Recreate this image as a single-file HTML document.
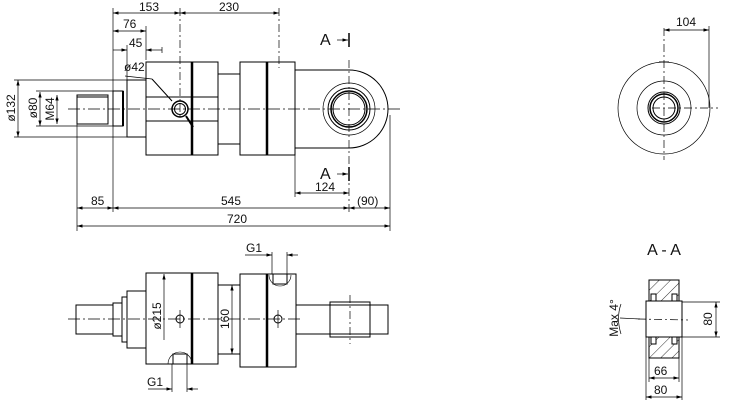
<!DOCTYPE html>
<html><head><meta charset="utf-8"><style>
html,body{margin:0;padding:0;background:#fff;}
svg{display:block;}
text{font-family:"Liberation Sans",sans-serif;font-size:12px;fill:#111;}
</style></head><body>
<svg width="734" height="411" viewBox="0 0 734 411" xmlns="http://www.w3.org/2000/svg">
<defs>
<marker id="a" viewBox="0 0 10 6" refX="10" refY="3" markerWidth="8" markerHeight="5" orient="auto-start-reverse"><path d="M0,0 L10,3 L0,6z" fill="#000"/></marker>
<pattern id="h" width="8" height="8" patternUnits="userSpaceOnUse" patternTransform="rotate(45)"><line x1="0" y1="0" x2="0" y2="8" stroke="#000" stroke-width="0.8"/></pattern>
</defs>
<g fill="none" stroke="#000" stroke-width="1">
<line x1="68" y1="109" x2="400" y2="109" stroke-dasharray="12,3,2,3" stroke-width="0.7"/>
<rect x="77" y="95" width="31" height="29"/>
<line x1="77" y1="97" x2="108" y2="97"/>
<rect x="113" y="91" width="10" height="35"/>
<line x1="123" y1="91" x2="123" y2="126" stroke-width="2"/>
<rect x="127" y="80" width="19" height="57"/>
<rect x="146" y="62" width="72" height="93"/>
<line x1="192" y1="62" x2="192" y2="155" stroke-width="2.5"/>
<line x1="146" y1="97" x2="218" y2="97"/>
<line x1="146" y1="121" x2="218" y2="121"/>
<rect x="218" y="74" width="22" height="70"/>
<rect x="240" y="62" width="55" height="93"/>
<line x1="267" y1="62" x2="267" y2="155" stroke-width="2.5"/>
<path d="M295,70 H349 A39,39 0 0 1 349,148 H295"/>
<circle cx="349" cy="109" r="26" stroke-width="0.7"/>
<circle cx="349" cy="109" r="21"/>
<circle cx="349" cy="109" r="18" stroke-width="1.5"/>
<circle cx="349" cy="109" r="16"/>
<line x1="349" y1="60" x2="349" y2="215" stroke-dasharray="8,3,2,3" stroke-width="0.7"/>
<circle cx="180" cy="109" r="8" stroke-width="1.5"/>
<circle cx="180" cy="109" r="5.5"/>
<line x1="152" y1="79" x2="172" y2="101"/>
<line x1="186" y1="116" x2="193" y2="127" stroke-width="2"/>
<line x1="125" y1="76" x2="152" y2="79" stroke-width="0.7"/>
<line x1="180" y1="8" x2="180" y2="120" stroke-dasharray="8,3,2,3" stroke-width="0.7"/>
<line x1="279" y1="8" x2="279" y2="68" stroke-dasharray="8,3,2,3" stroke-width="0.7"/>
<line x1="174" y1="62" x2="186" y2="62"/><line x1="273" y1="62" x2="285" y2="62"/>
<g stroke-width="0.7">
<line x1="113" y1="8" x2="113" y2="91"/>
<line x1="146" y1="26" x2="146" y2="60"/>
<line x1="127" y1="45" x2="127" y2="80"/>
<line x1="162" y1="47" x2="162" y2="53"/>
<line x1="113" y1="13" x2="180" y2="13" marker-start="url(#a)" marker-end="url(#a)"/>
<line x1="180" y1="13" x2="279" y2="13" marker-start="url(#a)" marker-end="url(#a)"/>
<line x1="113" y1="31" x2="146" y2="31" marker-start="url(#a)" marker-end="url(#a)"/>
<line x1="113" y1="50" x2="127" y2="50" marker-end="url(#a)"/>
<line x1="146" y1="50" x2="162" y2="50" marker-start="url(#a)"/>
<line x1="14" y1="80" x2="127" y2="80"/>
<line x1="14" y1="137" x2="127" y2="137"/>
<line x1="36" y1="91" x2="113" y2="91"/>
<line x1="36" y1="126" x2="113" y2="126"/>
<line x1="18" y1="80" x2="18" y2="137" marker-start="url(#a)" marker-end="url(#a)"/>
<line x1="40" y1="92" x2="40" y2="126" marker-start="url(#a)" marker-end="url(#a)"/>
<line x1="57" y1="95" x2="57" y2="124" marker-start="url(#a)" marker-end="url(#a)"/>
<line x1="77" y1="124" x2="77" y2="231"/>
<line x1="113" y1="126" x2="113" y2="212"/>
<line x1="295" y1="148" x2="295" y2="197"/>
<line x1="390" y1="115" x2="390" y2="231"/>
<line x1="295" y1="193" x2="349" y2="193" marker-start="url(#a)" marker-end="url(#a)"/>
<line x1="77" y1="208" x2="113" y2="208" marker-start="url(#a)" marker-end="url(#a)"/>
<line x1="113" y1="208" x2="349" y2="208" marker-start="url(#a)" marker-end="url(#a)"/>
<line x1="349" y1="208" x2="390" y2="208" marker-start="url(#a)" marker-end="url(#a)"/>
<line x1="77" y1="226" x2="390" y2="226" marker-start="url(#a)" marker-end="url(#a)"/>
<line x1="337" y1="40" x2="348" y2="40" marker-end="url(#a)"/>
<line x1="337" y1="174" x2="348" y2="174" marker-end="url(#a)"/>
</g>
<line x1="349" y1="33" x2="349" y2="47" stroke-width="1.5"/>
<line x1="349" y1="167" x2="349" y2="181" stroke-width="1.5"/>

<line x1="68" y1="319" x2="300" y2="319" stroke-dasharray="12,3,2,3" stroke-width="0.7"/>
<rect x="76" y="305" width="37" height="29"/>
<rect x="113" y="303" width="9" height="33"/>
<rect x="122" y="297" width="5" height="45"/>
<rect x="127" y="291" width="19" height="57"/>
<rect x="146" y="273" width="72" height="91"/>
<line x1="192" y1="273" x2="192" y2="364" stroke-width="2.5"/>
<rect x="218" y="285" width="22" height="69"/>
<rect x="240" y="274" width="56" height="93"/>
<line x1="267" y1="274" x2="267" y2="367" stroke-width="2.5"/>
<rect x="296" y="305" width="92" height="29"/>
<rect x="330" y="302" width="40" height="35"/>
<line x1="350" y1="295" x2="350" y2="344" stroke-dasharray="8,3,2,3" stroke-width="0.7"/>
<circle cx="180" cy="319" r="4"/><circle cx="278" cy="319" r="4"/>
<line x1="180" y1="310" x2="180" y2="328" stroke-width="0.7"/>
<line x1="278" y1="310" x2="278" y2="328" stroke-width="0.7"/>
<rect x="273" y="274" width="14" height="10"/>
<path d="M269,275 A11,11 0 0 0 291,275" stroke-width="0.6"/>
<rect x="173" y="354" width="14" height="10"/>
<path d="M168,364 A12,12 0 0 1 192,364" stroke-width="0.6"/>
<g stroke-width="0.7">
<line x1="272" y1="252" x2="272" y2="274"/><line x1="287" y1="252" x2="287" y2="274"/>
<line x1="245" y1="255" x2="272" y2="255" marker-end="url(#a)"/>
<line x1="298" y1="255" x2="287" y2="255" marker-end="url(#a)"/>
<line x1="172" y1="364" x2="172" y2="392"/><line x1="187" y1="364" x2="187" y2="392"/>
<line x1="148" y1="389" x2="172" y2="389" marker-end="url(#a)"/>
<line x1="198" y1="389" x2="187" y2="389" marker-end="url(#a)"/>
<line x1="164" y1="274" x2="164" y2="340" marker-start="url(#a)"/>
<line x1="232" y1="285" x2="232" y2="354" marker-start="url(#a)" marker-end="url(#a)"/>
</g>

<circle cx="664" cy="108" r="46" stroke-width="0.7"/>
<circle cx="664" cy="108" r="27" stroke-width="0.7"/>
<circle cx="664" cy="108" r="16"/>
<circle cx="664" cy="108" r="14" stroke-width="1.5"/>
<circle cx="664" cy="108" r="11"/>
<line x1="664" y1="28" x2="664" y2="160" stroke-dasharray="8,3,2,3" stroke-width="0.7"/>
<line x1="652" y1="108" x2="718" y2="108" stroke-dasharray="8,3,2,3" stroke-width="0.7"/>
<line x1="659" y1="62" x2="669" y2="62"/>
<line x1="709" y1="26" x2="709" y2="108" stroke-width="0.7"/>
<line x1="664" y1="30" x2="709" y2="30" stroke-width="0.7" marker-start="url(#a)" marker-end="url(#a)"/>

<rect x="649" y="280" width="30" height="21" fill="url(#h)"/>
<rect x="649" y="337" width="30" height="21" fill="url(#h)"/>
<rect x="651" y="294" width="5" height="7" fill="#fff"/><rect x="672" y="294" width="5" height="7" fill="#fff"/>
<rect x="651" y="337" width="5" height="7" fill="#fff"/><rect x="672" y="337" width="5" height="7" fill="#fff"/>
<rect x="646" y="301" width="36" height="36" fill="#fff"/>
<line x1="638" y1="319" x2="688" y2="320" stroke-dasharray="8,3,2,3" stroke-width="0.7"/>
<g stroke-width="0.7">
<line x1="682" y1="302" x2="720" y2="302"/><line x1="682" y1="337" x2="720" y2="337"/>
<line x1="716" y1="302" x2="716" y2="337" marker-start="url(#a)" marker-end="url(#a)"/>
<line x1="649" y1="358" x2="649" y2="382"/><line x1="679" y1="358" x2="679" y2="382"/>
<line x1="646" y1="337" x2="646" y2="400"/><line x1="682" y1="337" x2="682" y2="400"/>
<line x1="649" y1="378" x2="679" y2="378" marker-start="url(#a)" marker-end="url(#a)"/>
<line x1="646" y1="397" x2="682" y2="397" marker-start="url(#a)" marker-end="url(#a)"/>
<line x1="620" y1="318" x2="640" y2="319"/>
<path d="M621,304 Q616,318 621,334"/>
</g>
</g>
<text x="139" y="11">153</text>
<text x="219" y="11">230</text>
<text x="123" y="28">76</text>
<text x="129" y="47">45</text>
<text x="124" y="71">ø42</text>
<text x="91" y="205">85</text>
<text x="221" y="205">545</text>
<text x="357" y="205">(90)</text>
<text x="227" y="223">720</text>
<text x="315" y="191">124</text>
<text x="320" y="45" style="font-size:16px">A</text>
<text x="320" y="179" style="font-size:16px">A</text>
<text transform="translate(15,108) rotate(-90)" text-anchor="middle">ø132</text>
<text transform="translate(37,108) rotate(-90)" text-anchor="middle">ø80</text>
<text transform="translate(54,109) rotate(-90)" text-anchor="middle">M64</text>
<text x="246" y="252">G1</text>
<text x="147" y="386">G1</text>
<text transform="translate(161,316) rotate(-90)" text-anchor="middle">ø215</text>
<text transform="translate(229,319) rotate(-90)" text-anchor="middle">160</text>
<text x="676" y="26">104</text>
<text x="664" y="255" text-anchor="middle" style="font-size:16px">A - A</text>
<text transform="translate(712,319) rotate(-90)" text-anchor="middle">80</text>
<text x="654" y="375">66</text>
<text x="654" y="394">80</text>
<text transform="translate(618,318) rotate(-90)" text-anchor="middle">Max 4°</text>
</svg>
</body></html>
